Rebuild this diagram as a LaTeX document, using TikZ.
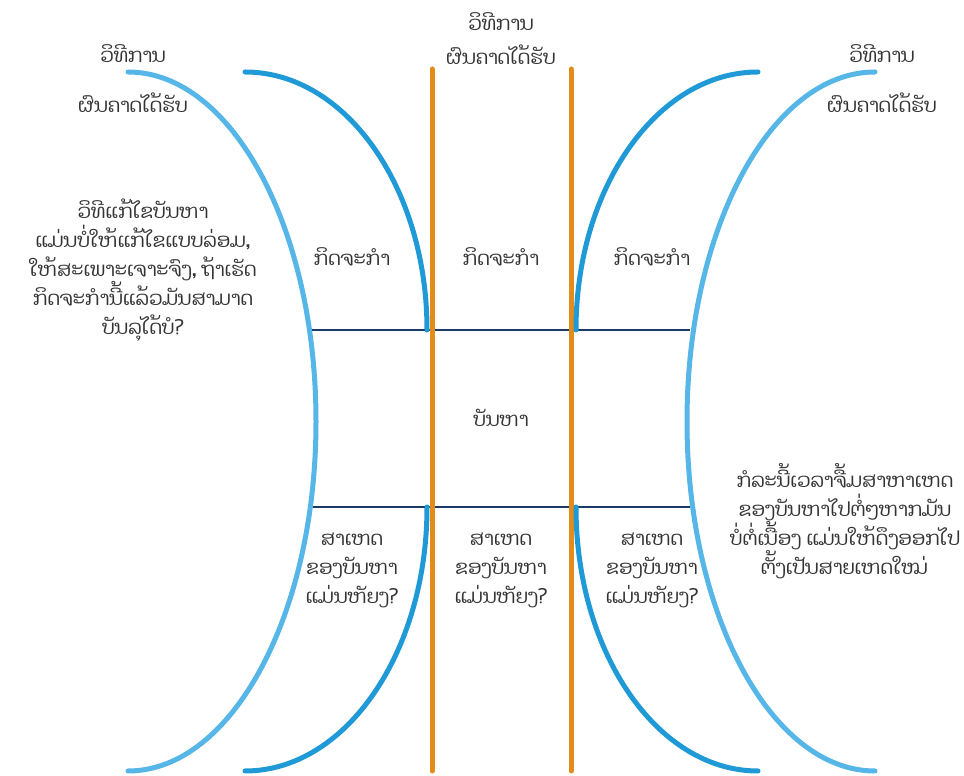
\documentclass[tikz,border=0pt]{standalone}
\usepackage{fontspec}
\newfontfamily\laofont[Script=Lao]{Dhyana}
\definecolor{lightblue}{HTML}{56B6E8}
\definecolor{darkblue}{HTML}{1F9AD6}
\definecolor{orangeline}{HTML}{E38C19}
\definecolor{navy}{HTML}{1B3A66}
\definecolor{txt}{HTML}{333333}
\begin{document}
\begin{tikzpicture}[x=1pt,y=1pt,
  outerarc/.style={draw=lightblue,line width=5pt,line cap=round},
  innerarc/.style={draw=darkblue,line width=5pt,line cap=round},
  orangebar/.style={draw=orangeline,line width=5pt,line cap=round},
  boxline/.style={draw=navy,line width=1.6pt},
  lbl/.style={text=txt,font=\laofont\fontsize{19.5}{29}\selectfont,align=center,inner sep=0pt}]
\useasboundingbox (0,0) rectangle (964,776);
% named coordinates
\coordinate (LOtop) at (128,704);
\coordinate (LItop) at (245,704);
\coordinate (LIbot) at (427,269);
\coordinate (RImid) at (576,446);
\coordinate (RIbot) at (576,269);
\coordinate (ROtop) at (875,704);
\coordinate (O1t) at (432,707); \coordinate (O1b) at (432,5);
\coordinate (O2t) at (571,707); \coordinate (O2b) at (571,5);
\coordinate (H1a) at (312,446); \coordinate (H1b) at (690,446);
\coordinate (H2a) at (312,269); \coordinate (H2b) at (690,269);
% horizontal box lines
\draw[boxline] (H1a) -- (H1b);
\draw[boxline] (H2a) -- (H2b);
% orange bars
\draw[orangebar] (O1t) -- (O1b);
\draw[orangebar] (O2t) -- (O2b);
% arcs
\draw[outerarc] (LOtop) arc (90:-90:188 and 349.5);
\draw[outerarc] (ROtop) arc (90:270:188 and 349.5);
\draw[innerarc] (LItop) arc (90:0:182 and 258);
\draw[innerarc] (LIbot) arc (0:-90:182 and 264);
\draw[innerarc] (RImid) arc (180:90:182 and 258);
\draw[innerarc] (RIbot) arc (180:270:182 and 264);
% labels
\node[lbl] (mt1) at (501,754) {ວິທີການ};
\node[lbl] (mt2) at (501,721) {ຜົນຄາດໄດ້ຮັບ};
\node[lbl] (lt1) at (133,722) {ວິທີການ};
\node[lbl] (lt2) at (133,673) {ຜົນຄາດໄດ້ຮັບ};
\node[lbl] (rt1) at (882,722) {ວິທີການ};
\node[lbl] (rt2) at (882,673) {ຜົນຄາດໄດ້ຮັບ};
\node[lbl] (a1) at (352,519) {ກິດຈະກຳ};
\node[lbl] (a2) at (501,519) {ກິດຈະກຳ};
\node[lbl] (a3) at (652,519) {ກິດຈະກຳ};
\node[lbl] (prob) at (501,358) {ບັນຫາ};
\node[lbl] (c1) at (352,206) {ສາເຫດ\\ຂອງບັນຫາ\\ແມ່ນຫັຍງ?};
\node[lbl] (c2) at (501,206) {ສາເຫດ\\ຂອງບັນຫາ\\ແມ່ນຫັຍງ?};
\node[lbl] (c3) at (652,206) {ສາເຫດ\\ຂອງບັນຫາ\\ແມ່ນຫັຍງ?};
\node[lbl] (sol) at (143,506) {ວິທີແກ້ໄຂບັນຫາ\\ແມ່ນບໍ່ໃຫ້ແກ້ໄຂແບບລ່ອມ,\\ໃຫ້ສະເພາະເຈາະຈົງ, ຖ້າເຮັດ\\ກິດຈະກຳນີ້ແລ້ວມັນສາມາດ\\ບັນລຸໄດ້ບໍ?};
\node[lbl] (note) at (845,255) {ກໍລະນີ້ເວລາຈື້ມສາຫາເຫດ\\ຂອງບັນຫາໄປຕໍ່ໆຫາກມັນ\\ບໍ່ຕໍ່ເນື້ອງ ແມ່ນໃຫ້ດຶງອອກໄປ\\ຕັ້ງເປັນສາຍເຫດໃໝ່};
\end{tikzpicture}
\end{document}
